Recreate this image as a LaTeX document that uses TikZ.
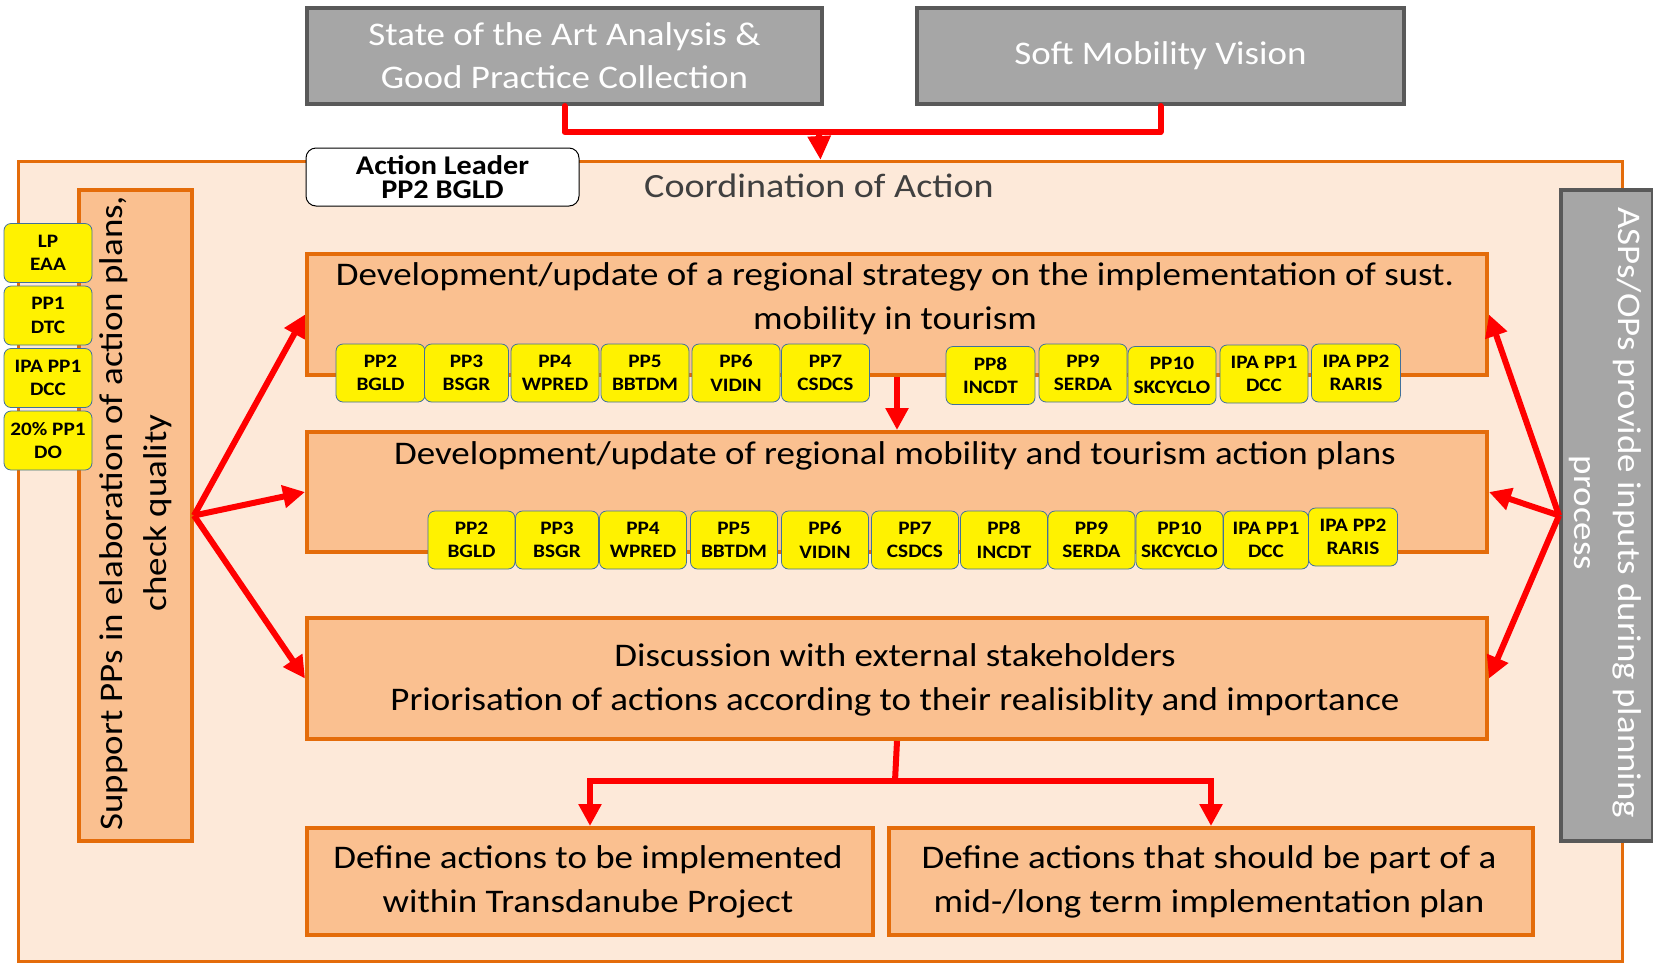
\documentclass[tikz,border=0pt]{standalone}
\usepackage{fontspec}
\setmainfont{Carlito}[FakeStretch=1.12]
\usetikzlibrary{arrows.meta}
\definecolor{orangeB}{HTML}{E46C0A}
\definecolor{peach}{HTML}{FDE9D9}
\definecolor{boxfill}{HTML}{FAC090}
\definecolor{grayF}{HTML}{A6A6A6}
\definecolor{grayB}{HTML}{595959}
\definecolor{yelB}{HTML}{41719C}
\definecolor{redC}{HTML}{FF0000}
\definecolor{darktext}{HTML}{404040}
\begin{document}
\begin{tikzpicture}[x=1pt,y=-1pt,
  outerbox/.style={draw=orangeB, line width=3pt, fill=peach, anchor=north west, inner sep=0pt},
  obox/.style={draw=orangeB, line width=4pt, fill=boxfill, anchor=north west, inner sep=0pt},
  gbox/.style={draw=grayB, line width=4pt, fill=grayF, text=white, anchor=north west, inner sep=0pt, align=center, font=\fontsize{33}{43}\selectfont},
  ybox/.style={draw=yelB, line width=0.8pt, fill=yellow, rounded corners=7pt, minimum height=58pt, minimum width=87pt, inner sep=0pt, align=center, font=\bfseries\fontsize{19}{23.5}\selectfont},
  maintext/.style={align=center, inner sep=0pt, font=\fontsize{33}{44}\selectfont},
  redline/.style={draw=redC, line width=6pt},
  redarrow/.style={draw=redC, line width=6pt, -{Triangle[length=22pt,width=22pt]}},
  redarrowT/.style={draw=redC, line width=6pt, -{Triangle[length=24pt,width=22pt]}}
]
\useasboundingbox (0,0) rectangle (1653,962);
\fill[white] (0,0) rectangle (1653,962);

% top boxes
\node[gbox, minimum width=515pt, minimum height=96pt] (sota) at (305,6) {State of the Art Analysis \&\\Good Practice Collection};
\node[gbox, minimum width=487pt, minimum height=96pt] (smv) at (915,6) {Soft Mobility Vision};

% outer coordination box
\node[outerbox, minimum width=1604pt, minimum height=800pt] (outer) at (17,160) {};

% top connector
\draw[redline, line cap=round, line join=round] (sota.south) |- (819,132) -| (smv.south);
\coordinate (j1) at (819,132);
\draw[redarrowT] (j1) -- (outer.north);

% action leader
\node[draw=black, line width=1pt, fill=white, rounded corners=10pt, minimum width=273pt, minimum height=58pt, inner sep=0pt, align=center, font=\bfseries\fontsize{27}{24}\selectfont] (leader) at (442.5,177) {Action Leader\\PP2 BGLD};
\node[text=darktext, inner sep=0pt, font=\fontsize{34}{44}\selectfont] (coord) at (819,186) {Coordination of Action};

% support box
\node[obox, minimum width=113pt, minimum height=651pt] (sup) at (77,188) {};
\node[maintext, rotate=90] (suptext) at (135.5,513) {Support PPs in elaboration of action plans,\\check quality};

% ASPs box
\node[gbox, minimum width=92pt, minimum height=651pt] (asp) at (1559,188) {};
\node[maintext, rotate=-90, text=white] (asptext) at (1605,513) {ASPs/OPs provide inputs during planning\\process};

% left partner boxes
\node[ybox, minimum width=88pt, minimum height=59pt] (lp) at (48,253) {LP\\EAA};
\node[ybox, minimum width=88pt, minimum height=59pt] (lpp1) at (48,315.5) {PP1\\DTC};
\node[ybox, minimum width=88pt, minimum height=59pt] (lipa) at (48,378) {IPA PP1\\DCC};
\node[ybox, minimum width=88pt, minimum height=59pt] (ldo) at (48,440.5) {20\% PP1\\DO};

% main boxes
\node[obox, minimum width=1180pt, minimum height=121pt] (b1) at (305,252) {};
\node[maintext] (b1t) at (895,299) {Development/update of a regional strategy on the implementation of sust.\\mobility in tourism};
\node[obox, minimum width=1180pt, minimum height=120pt] (b2) at (305,430) {};
\node[maintext] (b2t) at (895,456) {Development/update of regional mobility and tourism action plans};
\node[obox, minimum width=1180pt, minimum height=121pt] (b3) at (305,616) {};
\node[maintext] (b3t) at (895,680) {Discussion with external stakeholders\\Priorisation of actions according to their realisiblity and importance};
\node[obox, minimum width=566pt, minimum height=107pt] (b4) at (305,826) {};
\node[maintext] (b4t) at (588,882) {Define actions to be implemented\\within Transdanube Project};
\node[obox, minimum width=644pt, minimum height=107pt] (b5) at (887,826) {};
\node[maintext] (b5t) at (1209,882) {Define actions that should be part of a\\mid-/long term implementation plan};

% row 1 partner boxes
\node[ybox, minimum width=89pt] (r1a) at (380.5,373) {PP2\\BGLD};
\node[ybox, minimum width=84pt] (r1b) at (466.5,373) {PP3\\BSGR};
\node[ybox, minimum width=88pt] (r1c) at (555,373) {PP4\\WPRED};
\node[ybox, minimum width=88pt] (r1d) at (645,373) {PP5\\BBTDM};
\node[ybox, minimum width=88pt] (r1e) at (736,373) {PP6\\VIDIN};
\node[ybox, minimum width=88pt] (r1f) at (825.5,373) {PP7\\CSDCS};
\node[ybox, minimum width=89pt] (r1g) at (990.5,375.5) {PP8\\INCDT};
\node[ybox, minimum width=88pt] (r1h) at (1083,373) {PP9\\SERDA};
\node[ybox, minimum width=88pt] (r1i) at (1172,375.5) {PP10\\SKCYCLO};
\node[ybox, minimum width=88pt] (r1j) at (1264,374) {IPA PP1\\DCC};
\node[ybox, minimum width=89pt] (r1k) at (1356,373) {IPA PP2\\RARIS};

% row 2 partner boxes
\node[ybox] (r2a) at (471.5,540) {PP2\\BGLD};
\node[ybox, minimum width=83pt] (r2b) at (557,540) {PP3\\BSGR};
\node[ybox] (r2c) at (643,540) {PP4\\WPRED};
\node[ybox] (r2d) at (734,540) {PP5\\BBTDM};
\node[ybox] (r2e) at (825,540) {PP6\\VIDIN};
\node[ybox] (r2f) at (915,540) {PP7\\CSDCS};
\node[ybox] (r2g) at (1004,540) {PP8\\INCDT};
\node[ybox] (r2h) at (1091.5,540) {PP9\\SERDA};
\node[ybox] (r2i) at (1179.5,540) {PP10\\SKCYCLO};
\node[ybox, minimum width=85pt] (r2j) at (1266,540) {IPA PP1\\DCC};
\node[ybox, minimum width=89pt] (r2k) at (1353,537) {IPA PP2\\RARIS};

% flow arrows
\draw[redarrow] (b1.south) -- (b2.north);
\coordinate (j2) at (895,781);
\draw[redline] (b3.south) -- (j2);
\draw[redarrow] (j2) -| (b4.north);
\draw[redarrow] (j2) -| (b5.north);

% left fan
\coordinate (lf) at (sup.east);
\draw[redarrow] (lf) -- (b1.west);
\draw[redarrow] (lf) -- (b2.west);
\draw[redarrow] (lf) -- (b3.west);
% right fan
\coordinate (rf) at (asp.west);
\draw[redarrow] (rf) -- (b1.east);
\draw[redarrow] (rf) -- (b2.east);
\draw[redarrow] (rf) -- (b3.east);
\end{tikzpicture}
\end{document}
